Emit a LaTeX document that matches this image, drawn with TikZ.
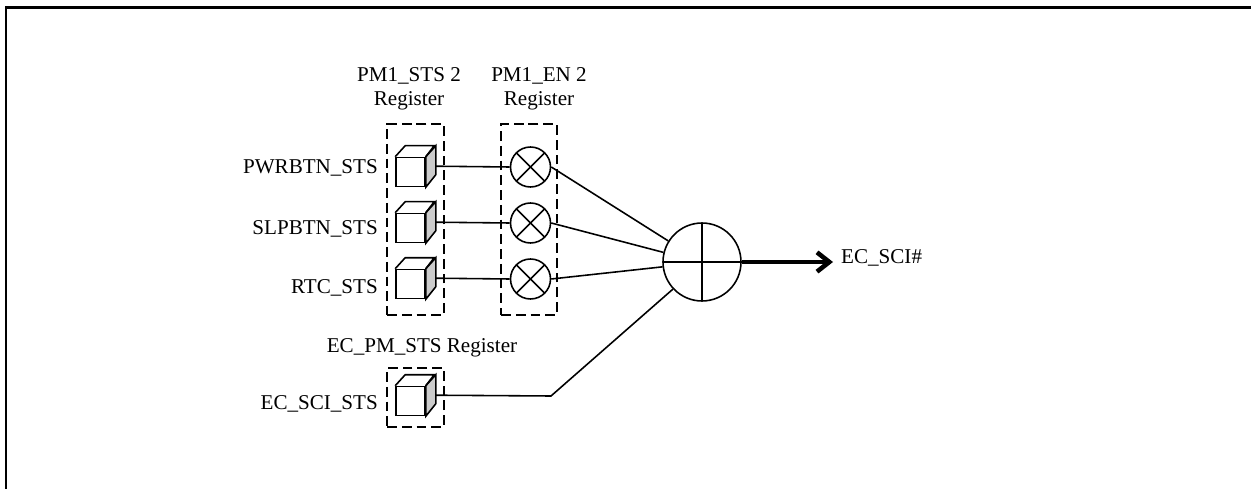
\documentclass[tikz,border=0pt]{standalone}
\usepackage{fontspec}
\setmainfont{Liberation Serif}
\usepackage{xcolor}
\usepackage{tikz}
\usetikzlibrary{arrows.meta, positioning, calc}
\definecolor{cubeside}{RGB}{204,204,204}
\tikzset{
  regbox/.style={draw, dashed, dash pattern=on 5.6pt off 2.8pt, line width=1.3pt, inner sep=0pt},
  cubefront/.style={draw, line width=0.9pt, fill=white, inner sep=0pt, minimum size=0.58cm},
  enable/.style={draw, circle, line width=0.9pt, inner sep=0pt, minimum size=0.8cm,
    path picture={
      \draw[line width=0.9pt] (path picture bounding box.north west) -- (path picture bounding box.south east);
      \draw[line width=0.9pt] (path picture bounding box.north east) -- (path picture bounding box.south west);
    }},
  merge/.style={draw, circle, line width=0.9pt, inner sep=0pt, minimum size=1.56cm,
    path picture={
      \draw[line width=0.9pt] (path picture bounding box.north) -- (path picture bounding box.south);
      \draw[line width=0.9pt] (path picture bounding box.west) -- (path picture bounding box.east);
    }},
  wire/.style={line width=0.9pt},
  stsname/.style={anchor=east}
}
\begin{document}
\begin{tikzpicture}[x=0.02cm, y=-0.02cm, font=\fontsize{12}{13.7}\selectfont]
  \useasboundingbox (0,0) rectangle (1251,489);
  % outer frame
  \draw[line width=1.3pt] (1251,7.5) -- (6,7.5) -- (6,489);
  % register boxes
  \node[regbox, minimum width=1.14cm, minimum height=3.82cm] (stsbox) at (415.5,219.5) {};
  \node[regbox, minimum width=1.12cm, minimum height=3.82cm] (enbox) at (529,219.5) {};
  \node[regbox, minimum width=1.14cm, minimum height=1.18cm] (ecbox) at (415.5,397.5) {};
  \node[align=center] (ststitle) at (409,89) {PM1\_STS 2\\Register};
  \node[align=center] (entitle) at (539,89) {PM1\_EN 2\\Register};
  \node (ectitle) at (422,348) {EC\_PM\_STS Register};
  % status bits: cube, label, wire start
  \foreach \idx/\lbl/\yy/\ly in {
    a/{PWRBTN\_STS}/172/168,
    b/{SLPBTN\_STS}/228/229,
    c/{RTC\_STS}/284/288,
    d/{EC\_SCI\_STS}/401/404
  }{
    \node[cubefront] (cube\idx) at (410.5,\yy) {};
    \node[stsname] (name\idx) at (384,\ly) {\lbl};
    \coordinate (out\idx) at ($(cube\idx.north east)+(10,9.5)$);
    \draw[line width=0.9pt, fill=cubeside] (cube\idx.north east) -- ++(10,-11) -- ++(0,29) -- (cube\idx.south east) -- cycle;
    \draw[line width=0.9pt] (cube\idx.north west) -- ++(10,-11) -- ++(29,0) -- (cube\idx.north east);
  }
  % enable bits
  \foreach \idx/\yy in {a/167, b/223, c/279}{
    \node[enable] (en\idx) at (530.5,\yy) {};
    \draw[wire] (out\idx) -- (en\idx.west);
  }
  \node[merge] (sum) at (702,262) {};
  \coordinate (bend) at (551,396);
  \draw[wire] (ena.east) -- (sum.148);
  \draw[wire] (enb.east) -- (sum.166);
  \draw[wire] (enc.east) -- (sum.187);
  \draw[wire] (outd) -- (bend) -- (sum.223);
  % output
  \node[anchor=west] (ecsci) at (835,258) {EC\_SCI\#};
  \coordinate (tip) at (833,262);
  \draw[-{Straight Barb[length=7pt,width=11pt]}, line width=2.6pt] (sum.east) -- (tip);
\end{tikzpicture}
\end{document}
